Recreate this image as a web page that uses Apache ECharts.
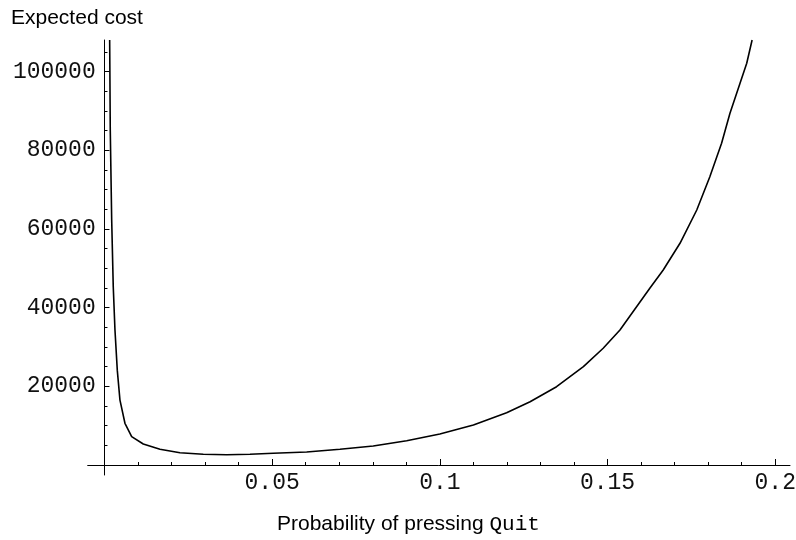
<!DOCTYPE html>
<html>
<head>
<meta charset="utf-8">
<script src="https://cdn.jsdelivr.net/npm/echarts@6/dist/echarts.min.js"></script>
<style>
    html, body { margin: 0; padding: 0; background: #fff; }
    #chart { width: 796px; height: 540px; }
</style>
</head>
<body>
<div id="chart"></div>
<script>
    // values: probability of pressing Quit -> expected cost
    var probs = [0.00155, 0.00173, 0.00215, 0.00262, 0.00313, 0.00382, 0.00462, 0.00611, 0.00811, 0.01157,
        0.01655, 0.02251, 0.02946, 0.03643, 0.04338, 0.05033, 0.06029, 0.07021, 0.08014, 0.0901,
        0.1, 0.110, 0.1199, 0.1269, 0.1348, 0.1428, 0.1487, 0.1537, 0.1626, 0.1666,
        0.1716, 0.1766, 0.1805, 0.1840, 0.1865, 0.1895, 0.1915, 0.1931];
    var costs = [108000, 85100, 62300, 45300, 34300, 24100, 16500, 10600, 7200, 5340,
        3990, 3130, 2720, 2620, 2720, 2970, 3300, 3990, 4830, 6180,
        7880, 10170, 13290, 16090, 19900, 24980, 29660, 34310, 44900, 49560,
        56340, 64800, 73270, 81750, 89380, 97000, 102080, 108000];

    var xMajor = [0.05, 0.1, 0.15, 0.2];
    var xMinor = [0.01, 0.02, 0.03, 0.04, 0.06, 0.07, 0.08, 0.09, 0.11, 0.12, 0.13, 0.14, 0.16, 0.17, 0.18, 0.19];
    var yMajor = [20000, 40000, 60000, 80000, 100000];
    var yMinor = [5000, 10000, 15000, 25000, 30000, 35000, 45000, 50000, 55000, 65000, 70000, 75000,
        85000, 90000, 95000, 105000];

    var xMin = -0.005, xMax = 0.2044;
    var yMin = -2540, yMax = 108000;

    var myChart = echarts.init(document.getElementById('chart'));

    var pts = [];
    for (var i = 0; i < probs.length; i++) {
        pts.push([probs[i], costs[i]]);
    }

    // labels sit at the grid edge, not on the crossing axis line, so margins are pulled in
    function xAxisOf(ticks, len, showLine, showLabel) {
        return {
            type: 'value',
            min: xMin,
            max: xMax,
            position: 'bottom',
            splitLine: { show: false },
            axisLine: { show: showLine, onZero: true, onZeroAxisIndex: 0, lineStyle: { color: '#000', width: 1 } },
            axisTick: { show: true, inside: true, length: len, customValues: ticks, lineStyle: { color: '#000', width: 1 } },
            axisLabel: {
                show: showLabel,
                customValues: ticks,
                margin: -4,
                fontFamily: 'Liberation Mono',
                fontSize: 23,
                color: '#111',
                formatter: function (v) { return String(+v.toFixed(3)); }
            }
        };
    }

    function yAxisOf(ticks, len, showLine, showLabel) {
        return {
            type: 'value',
            min: yMin,
            max: yMax,
            position: 'left',
            splitLine: { show: false },
            axisLine: { show: showLine, onZero: true, onZeroAxisIndex: 0, lineStyle: { color: '#000', width: 1 } },
            axisTick: { show: true, inside: true, length: len, customValues: ticks, lineStyle: { color: '#000', width: 1 } },
            axisLabel: {
                show: showLabel,
                customValues: ticks,
                margin: -8,
                fontFamily: 'Liberation Mono',
                fontSize: 23,
                color: '#111',
                formatter: function (v) { return String(Math.round(v)); }
            }
        };
    }

    var option = {
        backgroundColor: '#fff',
        animation: false,
        title: [{
            text: 'Expected cost',
            left: 11,
            top: 8,
            padding: 0,
            textStyle: { fontFamily: 'Liberation Sans', fontSize: 21, fontWeight: 'normal', color: '#000' }
        }, {
            text: '{a|Probability of pressing }{b|Quit}',
            left: 277,
            top: 514,
            padding: 0,
            textStyle: {
                fontWeight: 'normal',
                rich: {
                    a: { fontFamily: 'Liberation Sans', fontSize: 21, fontWeight: 'normal', color: '#000' },
                    b: { fontFamily: 'Liberation Mono', fontSize: 21, fontWeight: 'normal', color: '#000' }
                }
            }
        }],
        grid: { left: 87.7, right: 6, top: 40, bottom: 65, containLabel: false, outerBoundsMode: 'none' },
        xAxis: [
            xAxisOf(xMajor, 6, true, true),
            xAxisOf(xMinor, 3, false, false)
        ],
        yAxis: [
            yAxisOf(yMajor, 5, true, true),
            yAxisOf(yMinor, 3, false, false)
        ],
        series: [{
            type: 'line',
            xAxisIndex: 0,
            yAxisIndex: 0,
            data: pts,
            symbol: 'none',
            smooth: false,
            clip: true,
            lineStyle: { color: '#000', width: 1.6 }
        }]
    };

    myChart.setOption(option);
</script>
</body>
</html>
